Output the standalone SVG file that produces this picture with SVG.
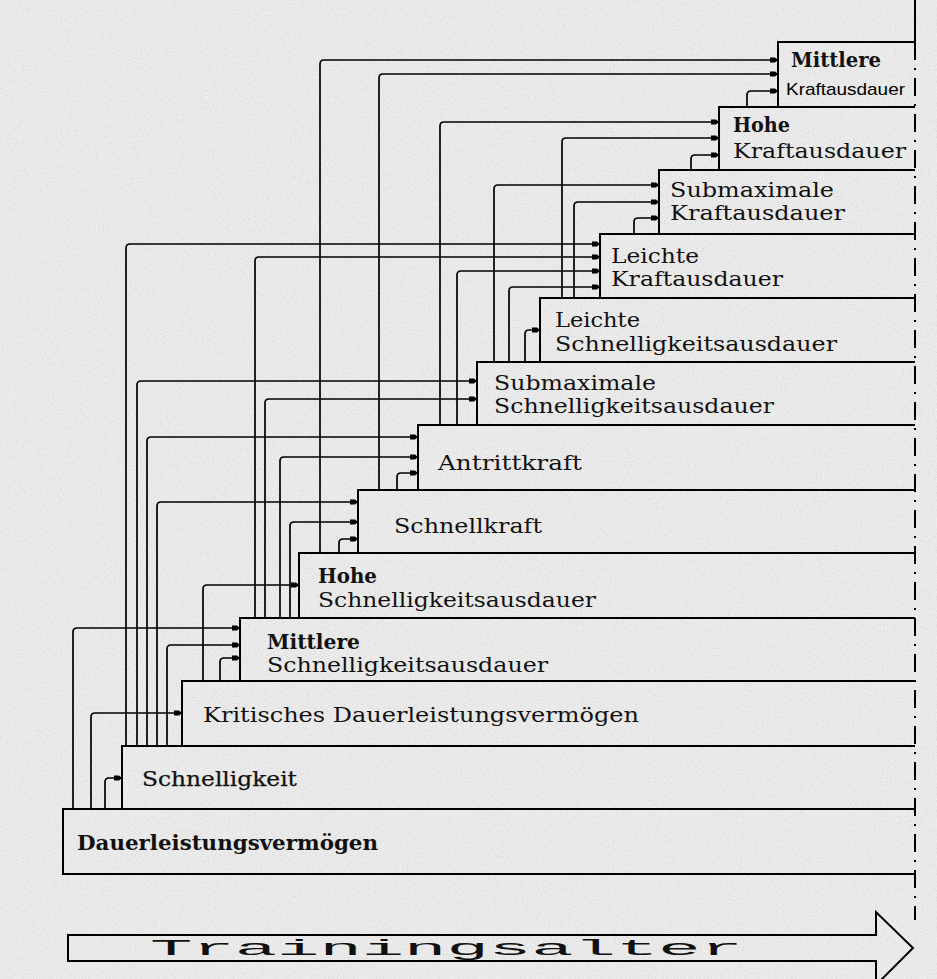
<svg xmlns="http://www.w3.org/2000/svg" width="937" height="979" viewBox="0 0 937 979">
<style>
.box{fill:none;stroke:#000;stroke-width:2}
.c{fill:none;stroke:#000;stroke-width:1.7;marker-end:url(#ah)}
.t{font-family:"DejaVu Serif","Liberation Serif",serif;font-size:20px;fill:#111}
.b{font-weight:bold}
.s{font-family:"Liberation Sans",Arial,sans-serif;font-size:17px}
.edge{fill:none;stroke:#000;stroke-width:2}
</style>
<defs>
<marker id="ah" markerWidth="10" markerHeight="8" refX="9" refY="4" orient="auto" markerUnits="userSpaceOnUse">
<path d="M1,1.6 H6 L9,4 L6,6.4 H1 Z" fill="#000"/>
</marker>
<filter id="noise" x="0" y="0" width="100%" height="100%">
<feTurbulence type="fractalNoise" baseFrequency="0.85" numOctaves="3" seed="7" result="t"/>
<feColorMatrix in="t" type="matrix" values="0 0 0 0 0.5 0 0 0 0 0.5 0 0 0 0 0.5 0 0 0 1.3 -0.5"/>
</filter>
</defs>
<rect width="937" height="979" fill="#ededed"/>
<rect width="937" height="979" filter="url(#noise)" opacity="0.55"/>

<g id="right-edge">
<path class="edge" d="M915,0 V42"/>
<path class="edge" d="M915,42 V920" stroke-dasharray="18 8 2 8"/>
</g>

<g id="connectors">
<path class="c" d="M73,809 V632 Q73,628 77,628 H240"/>
<path class="c" d="M91,809 V717 Q91,713 95,713 H182"/>
<path class="c" d="M105,809 V782 Q105,778 109,778 H122"/>
<path class="c" d="M126,746 V248 Q126,244 130,244 H600"/>
<path class="c" d="M137,746 V385 Q137,381 141,381 H477"/>
<path class="c" d="M147,746 V441 Q147,437 151,437 H418"/>
<path class="c" d="M157,746 V506 Q157,502 161,502 H358"/>
<path class="c" d="M167,746 V649 Q167,645 171,645 H240"/>
<path class="c" d="M203,681 V589 Q203,585 207,585 H299"/>
<path class="c" d="M220,681 V662 Q220,658 224,658 H240"/>
<path class="c" d="M255,618 V261 Q255,257 259,257 H600"/>
<path class="c" d="M265,618 V403 Q265,399 269,399 H477"/>
<path class="c" d="M280,618 V461 Q280,457 284,457 H418"/>
<path class="c" d="M290,618 V526 Q290,522 294,522 H358"/>
<path class="c" d="M320,553 V64 Q320,60 324,60 H778"/>
<path class="c" d="M339,553 V543 Q339,539 343,539 H358"/>
<path class="c" d="M379,490 V78 Q379,74 383,74 H778"/>
<path class="c" d="M397,490 V477 Q397,473 401,473 H418"/>
<path class="c" d="M440,425 V126 Q440,122 444,122 H719"/>
<path class="c" d="M457,425 V275 Q457,271 461,271 H600"/>
<path class="c" d="M494,362 V189 Q494,185 498,185 H659"/>
<path class="c" d="M509,362 V291 Q509,287 513,287 H600"/>
<path class="c" d="M525,362 V334 Q525,330 529,330 H540"/>
<path class="c" d="M562,298 V142 Q562,138 566,138 H719"/>
<path class="c" d="M574,298 V206 Q574,202 578,202 H659"/>
<path class="c" d="M634,234 V222 Q634,218 638,218 H659"/>
<path class="c" d="M691,170 V159 Q691,155 695,155 H719"/>
<path class="c" d="M747,107 V95 Q747,91 751,91 H778"/>
</g>

<g id="n-dauerleistungsvermoegen">
<path class="box" d="M915,809 H63 V874 H915"/>
<text class="t b" x="77" y="850" textLength="301" lengthAdjust="spacingAndGlyphs">Dauerleistungsvermögen</text>
</g>
<g id="n-schnelligkeit">
<path class="box" d="M915,746 H122 V809"/>
<text class="t" x="142" y="786" textLength="155" lengthAdjust="spacingAndGlyphs" stroke="#111" stroke-width="0.25">Schnelligkeit</text>
</g>
<g id="n-kritisches">
<path class="box" d="M915,681 H182 V746"/>
<text class="t" x="203" y="722" textLength="436" lengthAdjust="spacingAndGlyphs">Kritisches Dauerleistungsvermögen</text>
</g>
<g id="n-mittlere-sa">
<path class="box" d="M915,618 H240 V681"/>
<text class="t b" x="267" y="649" textLength="93" lengthAdjust="spacingAndGlyphs">Mittlere</text>
<text class="t" x="267" y="672" textLength="281" lengthAdjust="spacingAndGlyphs">Schnelligkeitsausdauer</text>
</g>
<g id="n-hohe-sa">
<path class="box" d="M915,553 H299 V618"/>
<text class="t b" x="318" y="583" textLength="59" lengthAdjust="spacingAndGlyphs">Hohe</text>
<text class="t" x="318" y="607" textLength="278" lengthAdjust="spacingAndGlyphs">Schnelligkeitsausdauer</text>
</g>
<g id="n-schnellkraft">
<path class="box" d="M915,490 H358 V553"/>
<text class="t" x="394" y="533" textLength="148" lengthAdjust="spacingAndGlyphs">Schnellkraft</text>
</g>
<g id="n-antrittkraft">
<path class="box" d="M915,425 H418 V490"/>
<text class="t" x="438" y="470" textLength="144" lengthAdjust="spacingAndGlyphs">Antrittkraft</text>
</g>
<g id="n-submax-sa">
<path class="box" d="M915,362 H477 V425"/>
<text class="t" x="494" y="390" textLength="162" lengthAdjust="spacingAndGlyphs">Submaximale</text>
<text class="t" x="494" y="413" textLength="280" lengthAdjust="spacingAndGlyphs">Schnelligkeitsausdauer</text>
</g>
<g id="n-leichte-sa">
<path class="box" d="M915,298 H540 V362"/>
<text class="t" x="555" y="327" textLength="85" lengthAdjust="spacingAndGlyphs">Leichte</text>
<text class="t" x="555" y="351" textLength="282" lengthAdjust="spacingAndGlyphs">Schnelligkeitsausdauer</text>
</g>
<g id="n-leichte-ka">
<path class="box" d="M915,234 H600 V298"/>
<text class="t" x="611" y="263" textLength="88" lengthAdjust="spacingAndGlyphs">Leichte</text>
<text class="t" x="611" y="286" textLength="172" lengthAdjust="spacingAndGlyphs">Kraftausdauer</text>
</g>
<g id="n-submax-ka">
<path class="box" d="M915,170 H659 V234"/>
<text class="t" x="670" y="197" textLength="164" lengthAdjust="spacingAndGlyphs">Submaximale</text>
<text class="t" x="670" y="220" textLength="175" lengthAdjust="spacingAndGlyphs">Kraftausdauer</text>
</g>
<g id="n-hohe-ka">
<path class="box" d="M915,107 H719 V170"/>
<text class="t b" x="733" y="132" textLength="57" lengthAdjust="spacingAndGlyphs">Hohe</text>
<text class="t" x="733" y="158" textLength="173" lengthAdjust="spacingAndGlyphs">Kraftausdauer</text>
</g>
<g id="n-mittlere-ka">
<path class="box" d="M915,42 H778 V107"/>
<text class="t b" x="791" y="67" textLength="90" lengthAdjust="spacingAndGlyphs">Mittlere</text>
<text class="s" x="786" y="95" textLength="119" lengthAdjust="spacingAndGlyphs">Kraftausdauer</text>
</g>

<g id="n-trainingsalter">
<path class="box" d="M68,935 H876 V912 L913,948 L876,985 V961 H68 Z"/>
<text x="150" y="955" font-family="Liberation Mono,DejaVu Sans Mono,monospace" font-size="22" fill="#111" textLength="593" lengthAdjust="spacingAndGlyphs">Trainingsalter</text>
</g>
</svg>
